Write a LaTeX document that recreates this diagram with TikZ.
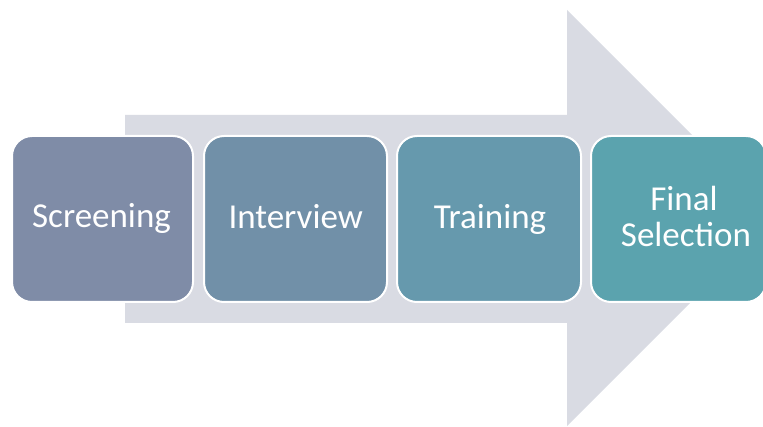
\documentclass[tikz,border=0pt]{standalone}
\usepackage{fontspec}
\setmainfont{Carlito}
\definecolor{arrowgray}{RGB}{217,219,227}
\definecolor{cone}{RGB}{127,140,167}
\definecolor{ctwo}{RGB}{113,144,168}
\definecolor{cthree}{RGB}{102,153,173}
\definecolor{cfour}{RGB}{91,163,174}
\begin{document}
\begin{tikzpicture}[x=1pt,y=1pt,
  stepbox/.style={draw=white, line width=2pt, rounded corners=20pt,
    minimum height=166pt, inner sep=0pt, outer sep=0pt},
  steptext/.style={text=white, font=\fontsize{35}{36}\selectfont, inner sep=0pt, anchor=base}]
\useasboundingbox (0,0) rectangle (763,426);
\begin{scope}
\clip (0,0) rectangle (763,426);
% big background arrow
\fill[arrowgray] (125,311) -- (567,311) -- (567,416) -- (775,208) -- (567,0) -- (567,103) -- (125,103) -- cycle;
% step boxes
\node[stepbox, fill=cone, minimum width=181pt] (b1) at (102.5,207) {};
\node[stepbox, fill=ctwo, minimum width=183pt] (b2) at (295.5,207) {};
\node[stepbox, fill=cthree, minimum width=184pt] (b3) at (489,207) {};
\node[stepbox, fill=cfour, minimum width=175pt] (b4) at (678.5,207) {};
\end{scope}
% labels
\node[steptext] (t1) at (101.5,198) {Screening};
\node[steptext] (t2) at (295.7,197) {Interview};
\node[steptext] (t3) at (490,197) {Training};
\node[steptext] (t4a) at (684,215) {Final};
\node[steptext] (t4b) at (686,179) {Selection};
\end{tikzpicture}
\end{document}
